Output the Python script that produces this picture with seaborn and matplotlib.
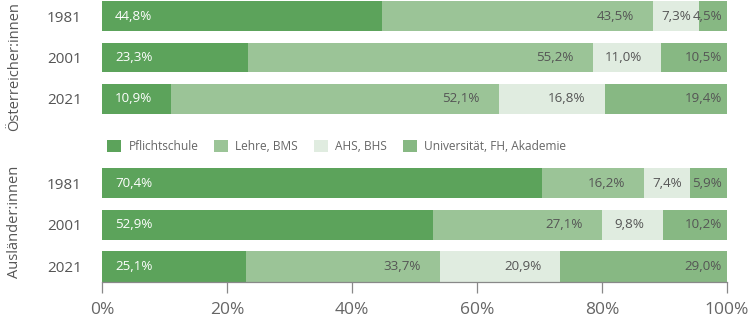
import numpy as np
import pandas as pd
import matplotlib
matplotlib.use("Agg")
import matplotlib.pyplot as plt
from matplotlib.patches import Patch
import seaborn as sns

# Highest completed education, shares in percent
years = ["1981", "2001", "2021"]
categories = ["Pflichtschule", "Lehre, BMS", "AHS, BHS", "Universität, FH, Akademie"]
group_labels = ["Österreicher:innen", "Ausländer:innen"]

aut_pflicht = [44.8, 23.3, 10.9]
aut_lehre = [43.5, 55.2, 52.1]
aut_ahs = [7.3, 11.0, 16.8]
aut_uni = [4.5, 10.5, 19.4]

ausl_pflicht = [70.4, 52.9, 25.1]
ausl_lehre = [16.2, 27.1, 33.7]
ausl_ahs = [7.4, 9.8, 20.9]
ausl_uni = [5.9, 10.2, 29.0]

x_ticks = [0, 20, 40, 60, 80, 100]
x_tick_labels = ["0%", "20%", "40%", "60%", "80%", "100%"]

colors = ["#5ca35b", "#9bc497", "#e0ece0", "#87b883"]

sns.set_style("white")
plt.rcParams["font.family"] = ["Open Sans", "DejaVu Sans"]

W, H = 749, 321
fig = plt.figure(figsize=(W / 100, H / 100), dpi=100)


def px_axes(left, top, right, bottom):
    return fig.add_axes([left / W, 1 - bottom / H, (right - left) / W, (bottom - top) / H])


def build_frame(rows):
    recs = []
    for cat, vals in zip(categories, rows):
        for yr, v in zip(years, vals):
            recs.append({"year": yr, "category": cat, "value": v})
    df = pd.DataFrame(recs)
    total = df.groupby("year")["value"].transform("sum")
    df["share"] = df["value"] / total * 100
    df["cat_idx"] = df["category"].map({c: i for i, c in enumerate(categories)})
    df = df.sort_values(["year", "cat_idx"])
    df["end"] = df.groupby("year")["share"].cumsum()
    df["start"] = df["end"] - df["share"]
    return df


def fmt(v):
    return f"{v:.1f}".replace(".", ",") + "%"


def draw_panel(ax, df, ylim_bottom):
    # stacked bars: draw cumulative totals from the outermost segment inwards
    for i in reversed(range(len(categories))):
        sub = df[df["cat_idx"] == i]
        sns.barplot(data=sub, x="end", y="year", order=years, orient="h",
                    color=colors[i], width=0.72, saturation=1, ax=ax,
                    linewidth=0, errorbar=None)
    px_per_pct = 625 / 100
    for _, r in df.iterrows():
        y = years.index(r["year"])
        label = fmt(r["value"])
        if r["cat_idx"] == 0:
            ax.text(r["start"] + 13 / px_per_pct, y, label, ha="left", va="center",
                    color="white", fontsize=9.6)
        elif r["cat_idx"] == len(categories) - 1:
            ax.text(100 - 5 / px_per_pct, y, label, ha="right", va="center",
                    color="#555555", fontsize=9.6)
        elif r["share"] < 8.5:
            ax.text((r["start"] + r["end"]) / 2, y, label, ha="center", va="center",
                    color="#555555", fontsize=9.6)
        else:
            ax.text(r["end"] - 19 / px_per_pct, y, label, ha="right", va="center",
                    color="#555555", fontsize=9.6)
    ax.set_xlim(0, 100)
    ax.set_ylim(ylim_bottom, -0.5)
    ax.set_xlabel("")
    ax.set_ylabel("")
    for s in ["top", "right", "left"]:
        ax.spines[s].set_visible(False)
    ax.tick_params(axis="y", length=2.5, width=0.8, color="#999999", pad=12,
                   labelsize=11, labelcolor="#555555")


df_aut = build_frame([aut_pflicht, aut_lehre, aut_ahs, aut_uni])
df_ausl = build_frame([ausl_pflicht, ausl_lehre, ausl_ahs, ausl_uni])

ax_top = px_axes(102, -4.75, 727, 119.75)
draw_panel(ax_top, df_aut, 2.5)
ax_top.spines["bottom"].set_visible(False)
ax_top.set_xticks([])

ax_bot = px_axes(102, 162.15, 727, 281.5)
draw_panel(ax_bot, df_ausl, 2.36)
ax_bot.spines["bottom"].set_color("#888888")
ax_bot.spines["bottom"].set_linewidth(0.9)
ax_bot.set_xticks(x_ticks)
ax_bot.set_xticklabels(x_tick_labels)
ax_bot.tick_params(axis="x", length=8, width=0.9, color="#888888", pad=7,
                   labelsize=12.5, labelcolor="#666666", bottom=True)

fig.text(15 / W, 1 - 67 / H, group_labels[0], rotation=90, ha="center", va="center",
         fontsize=10.5, color="#555555")
fig.text(15 / W, 1 - 222 / H, group_labels[1], rotation=90, ha="center", va="center",
         fontsize=10.5, color="#555555")

handles = [Patch(facecolor=c, edgecolor="none", label=l) for c, l in zip(colors, categories)]
fig.legend(handles=handles, loc="center left", bbox_to_anchor=(107 / W, 1 - 146.5 / H),
           bbox_transform=fig.transFigure, ncol=4, frameon=False, fontsize=8.6,
           labelcolor="#666666", handlelength=1.2, handleheight=1.2, handletextpad=0.6,
           columnspacing=1.3, borderpad=0, borderaxespad=0)

fig.savefig("out.png", dpi=100)
